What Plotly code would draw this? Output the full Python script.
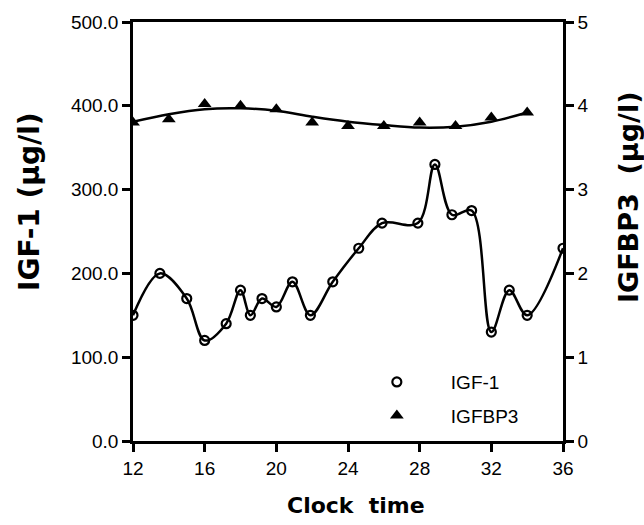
import plotly.graph_objects as go

# IGF-1 samples (clock time, µg/l)
igf_time = [12, 13.5, 15, 16, 17.2, 18, 18.55, 19.2, 20, 20.9, 21.9, 23.15,
            24.6, 25.9, 27.9, 28.85, 29.8, 30.9, 32, 33, 34, 36]
igf_vals = [150, 200, 170, 120, 140, 180, 150, 170, 160, 190, 150, 190,
            230, 260, 260, 330, 270, 275, 130, 180, 150, 230]

# IGFBP3 samples (clock time, µg/l)
bp3_time = [12, 14, 16, 18, 20, 22, 24, 26, 28, 30, 32, 34]
bp3_vals = [3.80, 3.84, 4.02, 4.00, 3.96, 3.80, 3.76, 3.76, 3.80, 3.76, 3.86, 3.92]

# IGFBP3 smoothed trend curve
bp3_trend_time = [12, 14, 16, 18, 20, 22, 24, 26, 28, 30, 32, 34]
bp3_trend_vals = [3.81, 3.90, 3.96, 3.97, 3.94, 3.87, 3.81, 3.77, 3.74, 3.75, 3.81, 3.92]

x_ticks = [12, 16, 20, 24, 28, 32, 36]
y1_ticks = [0, 100, 200, 300, 400, 500]
y2_ticks = [0, 1, 2, 3, 4, 5]

TICKFONT = dict(family="Liberation Sans, Arial, sans-serif", size=19, color="black")
TITLEFONT = "DejaVu Sans, sans-serif"

fig = go.Figure()

fig.add_trace(go.Scatter(
    x=igf_time, y=igf_vals, mode="lines",
    line=dict(color="black", width=2.5, shape="spline", smoothing=1.0),
    showlegend=False, hoverinfo="skip"))
fig.add_trace(go.Scatter(
    x=bp3_trend_time, y=bp3_trend_vals, mode="lines", yaxis="y2",
    line=dict(color="black", width=2.5, shape="spline", smoothing=1.0),
    showlegend=False, hoverinfo="skip"))

fig.add_trace(go.Scatter(
    x=igf_time, y=igf_vals, mode="markers", name="IGF-1", legendgroup="a",
    marker=dict(symbol="circle-open", size=9, color="black", line=dict(width=2.2, color="black"))))
fig.add_trace(go.Scatter(
    x=bp3_time, y=bp3_vals, mode="markers", name="IGFBP3", yaxis="y2", legendgroup="b",
    marker=dict(symbol="triangle-up", size=12, color="black")))

axis_common = dict(showline=True, linecolor="black", linewidth=2.5, ticks="outside",
                   ticklen=8, tickwidth=2.5, tickcolor="black", showgrid=False,
                   zeroline=False, tickfont=TICKFONT)

fig.update_layout(
    width=644, height=525,
    margin=dict(l=133, r=81, t=15, b=84),
    paper_bgcolor="white", plot_bgcolor="white",
    xaxis=dict(range=[12, 36], tickvals=x_ticks, mirror=True, **axis_common),
    yaxis=dict(range=[0, 500], tickvals=y1_ticks, tickformat=".1f", **axis_common),
    yaxis2=dict(range=[0, 5], tickvals=y2_ticks, overlaying="y", side="right", **axis_common),
    legend=dict(x=0.488, y=0.186, xanchor="left", yanchor="top",
                font=dict(family="Liberation Sans, Arial, sans-serif", size=19, color="black"),
                itemwidth=98, bgcolor="rgba(0,0,0,0)", tracegroupgap=6),
    annotations=[
        dict(text="Clock  time", xref="paper", yref="paper", x=0.519, y=(441 - 507) / 426,
             showarrow=False, font=dict(family=TITLEFONT, size=22, color="black", weight="bold"),
             xanchor="center", yanchor="middle"),
        dict(text="IGF-1 (μg/l)", xref="paper", yref="paper", x=(30 - 133) / 430, y=(441 - 198) / 426,
             showarrow=False, textangle=-90,
             font=dict(family=TITLEFONT, size=28, color="black", weight="bold"),
             xanchor="center", yanchor="middle"),
        dict(text="IGFBP3  (μg/l)", xref="paper", yref="paper", x=(628 - 133) / 430, y=(441 - 193) / 426,
             showarrow=False, textangle=-90,
             font=dict(family=TITLEFONT, size=27, color="black", weight="bold"),
             xanchor="center", yanchor="middle"),
    ],
)

fig.write_html("out.html")
